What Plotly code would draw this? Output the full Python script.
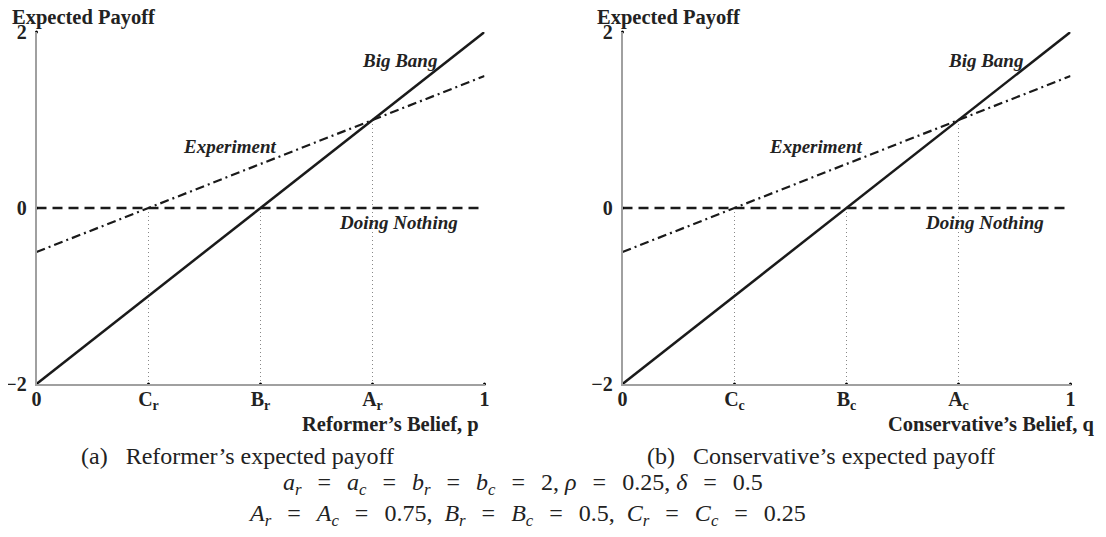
import plotly.graph_objects as go

# ---- data ----
belief = [0, 1]
big_bang = [-2, 2]
experiment = [-0.5, 1.5]
doing_nothing = [0, 0]

thresholds = [0.25, 0.5, 0.75]          # C, B, A
threshold_tops = [0, 0, 1]              # where the dotted guides start
x_tick_vals = [0, 0.25, 0.5, 0.75, 1]
x_tick_text_r = ["0", "C<sub>r</sub>", "B<sub>r</sub>", "A<sub>r</sub>", "1"]
x_tick_text_c = ["0", "C<sub>c</sub>", "B<sub>c</sub>", "A<sub>c</sub>", "1"]
y_tick_vals = [-2, 0, 2]
y_tick_text = ["\u22122", "0", "2"]

line_labels = ["Big Bang", "Experiment", "Doing Nothing"]
label_x = [0.811, 0.433, 0.809]
label_y = [1.675, 0.695, -0.16]

panel_xtitles = ["Reformer\u2019s Belief, p", "Conservative\u2019s Belief, q"]
captions = ["(a)\u2002 Reformer\u2019s expected payoff", "(b)\u2002 Conservative\u2019s expected payoff"]

SERIF = "Liberation Serif"
VW, VH = 1106, 537      # browser window
OFF = 8                 # default page margin around the figure
W, H = VW - OFF, VH - 2 * OFF


def px(x):
    return (x - OFF) / W


def py(y):
    return 1 - (y - OFF) / H


fig = go.Figure()

panels = [("x", "y", x_tick_text_r), ("x2", "y2", x_tick_text_c)]
for (xa, ya, ttext) in panels:
    for t, top in zip(thresholds, threshold_tops):
        fig.add_trace(go.Scatter(x=[t, t], y=[top, -2], mode="lines",
                                 line=dict(color="#888888", width=1, dash="1px,3px"),
                                 xaxis=xa, yaxis=ya, showlegend=False, hoverinfo="skip"))
    fig.add_trace(go.Scatter(x=belief, y=doing_nothing, mode="lines",
                             line=dict(color="#1a1a1a", width=2.5, dash="10px,6px"),
                             xaxis=xa, yaxis=ya, showlegend=False, cliponaxis=False))
    fig.add_trace(go.Scatter(x=belief, y=experiment, mode="lines",
                             line=dict(color="#1a1a1a", width=2.2, dash="9px,4px,2px,4px"),
                             xaxis=xa, yaxis=ya, showlegend=False, cliponaxis=False))
    fig.add_trace(go.Scatter(x=belief, y=big_bang, mode="lines",
                             line=dict(color="#1a1a1a", width=2.5),
                             xaxis=xa, yaxis=ya, showlegend=False, cliponaxis=False))
    fig.add_trace(go.Scatter(x=x_tick_vals, y=[-2] * len(x_tick_vals), mode="markers",
                             marker=dict(color="black", size=3),
                             xaxis=xa, yaxis=ya, showlegend=False, cliponaxis=False))
    fig.add_trace(go.Scatter(x=[0] * len(y_tick_vals), y=y_tick_vals, mode="markers",
                             marker=dict(color="black", size=3),
                             xaxis=xa, yaxis=ya, showlegend=False, cliponaxis=False))
    for txt, lx, ly in zip(line_labels, label_x, label_y):
        fig.add_annotation(x=lx, y=ly, xref=xa, yref=ya, text="<b><i>" + txt + "</i></b>",
                           showarrow=False, xanchor="center", yanchor="middle",
                           font=dict(family=SERIF, size=19, color="#222"))

x_doms = [[px(36.5), px(484.5)], [px(622.5), px(1070.5)]]
y_dom = [py(384), py(32)]

axis_common = dict(showgrid=False, zeroline=False, showline=True, linecolor="#a0a0a0",
                   linewidth=1.5, ticks="", automargin=False,
                   tickfont=dict(family=SERIF, size=20, color="#222"))

for i, (xa, ya, ttext) in enumerate(panels):
    xk = "xaxis" if i == 0 else "xaxis2"
    yk = "yaxis" if i == 0 else "yaxis2"
    fig.layout[xk] = dict(axis_common, domain=x_doms[i], range=[0, 1], anchor=ya,
                          tickvals=x_tick_vals, ticktext=["<b>" + t + "</b>" for t in ttext],
                          ticklabelstandoff=-4)
    fig.layout[yk] = dict(axis_common, domain=y_dom, range=[-2, 2], anchor=xa,
                          tickvals=y_tick_vals, ticktext=["<b>" + t + "</b>" for t in y_tick_text],
                          ticklabelstandoff=4)
    left = 36.5 if i == 0 else 622.5
    fig.add_annotation(x=px(left - 27), y=py(17), xref="paper", yref="paper",
                       text="<b>Expected Payoff</b>", showarrow=False, xanchor="left",
                       yanchor="middle", font=dict(family=SERIF, size=20.5, color="#222"))
    fig.add_annotation(x=px(390 if i == 0 else 991), y=py(424), xref="paper", yref="paper",
                       text="<b>" + panel_xtitles[i] + "</b>", showarrow=False, xanchor="center",
                       yanchor="middle", font=dict(family=SERIF, size=20.5, color="#222"))
    fig.add_annotation(x=px(237.5 if i == 0 else 821), y=py(456), xref="paper", yref="paper",
                       text=captions[i], showarrow=False, xanchor="center", yanchor="middle",
                       font=dict(family=SERIF, size=24, color="#222"))

EQ = "\u2002\u2006=\u2002\u2006"
math1 = ("<i>a<sub>r</sub></i>" + EQ + "<i>a<sub>c</sub></i>" + EQ + "<i>b<sub>r</sub></i>" + EQ +
         "<i>b<sub>c</sub></i>" + EQ + "2, <i>\u03c1</i>" + EQ + "0.25, <i>\u03b4</i>" + EQ + "0.5")
math2 = ("<i>A<sub>r</sub></i>" + EQ + "<i>A<sub>c</sub></i>" + EQ + "0.75,\u2002" +
         "<i>B<sub>r</sub></i>" + EQ + "<i>B<sub>c</sub></i>" + EQ + "0.5,\u2002" +
         "<i>C<sub>r</sub></i>" + EQ + "<i>C<sub>c</sub></i>" + EQ + "0.25")
fig.add_annotation(x=px(523), y=py(484), xref="paper", yref="paper", text=math1,
                   showarrow=False, xanchor="center", yanchor="middle",
                   font=dict(family=SERIF, size=24, color="#222"))
fig.add_annotation(x=px(527), y=py(515), xref="paper", yref="paper", text=math2,
                   showarrow=False, xanchor="center", yanchor="middle",
                   font=dict(family=SERIF, size=24, color="#222"))

fig.update_layout(width=W, height=H, margin=dict(l=0, r=0, t=0, b=0, pad=0),
                  plot_bgcolor="white", paper_bgcolor="white", showlegend=False)

fig.write_html("out.html")
